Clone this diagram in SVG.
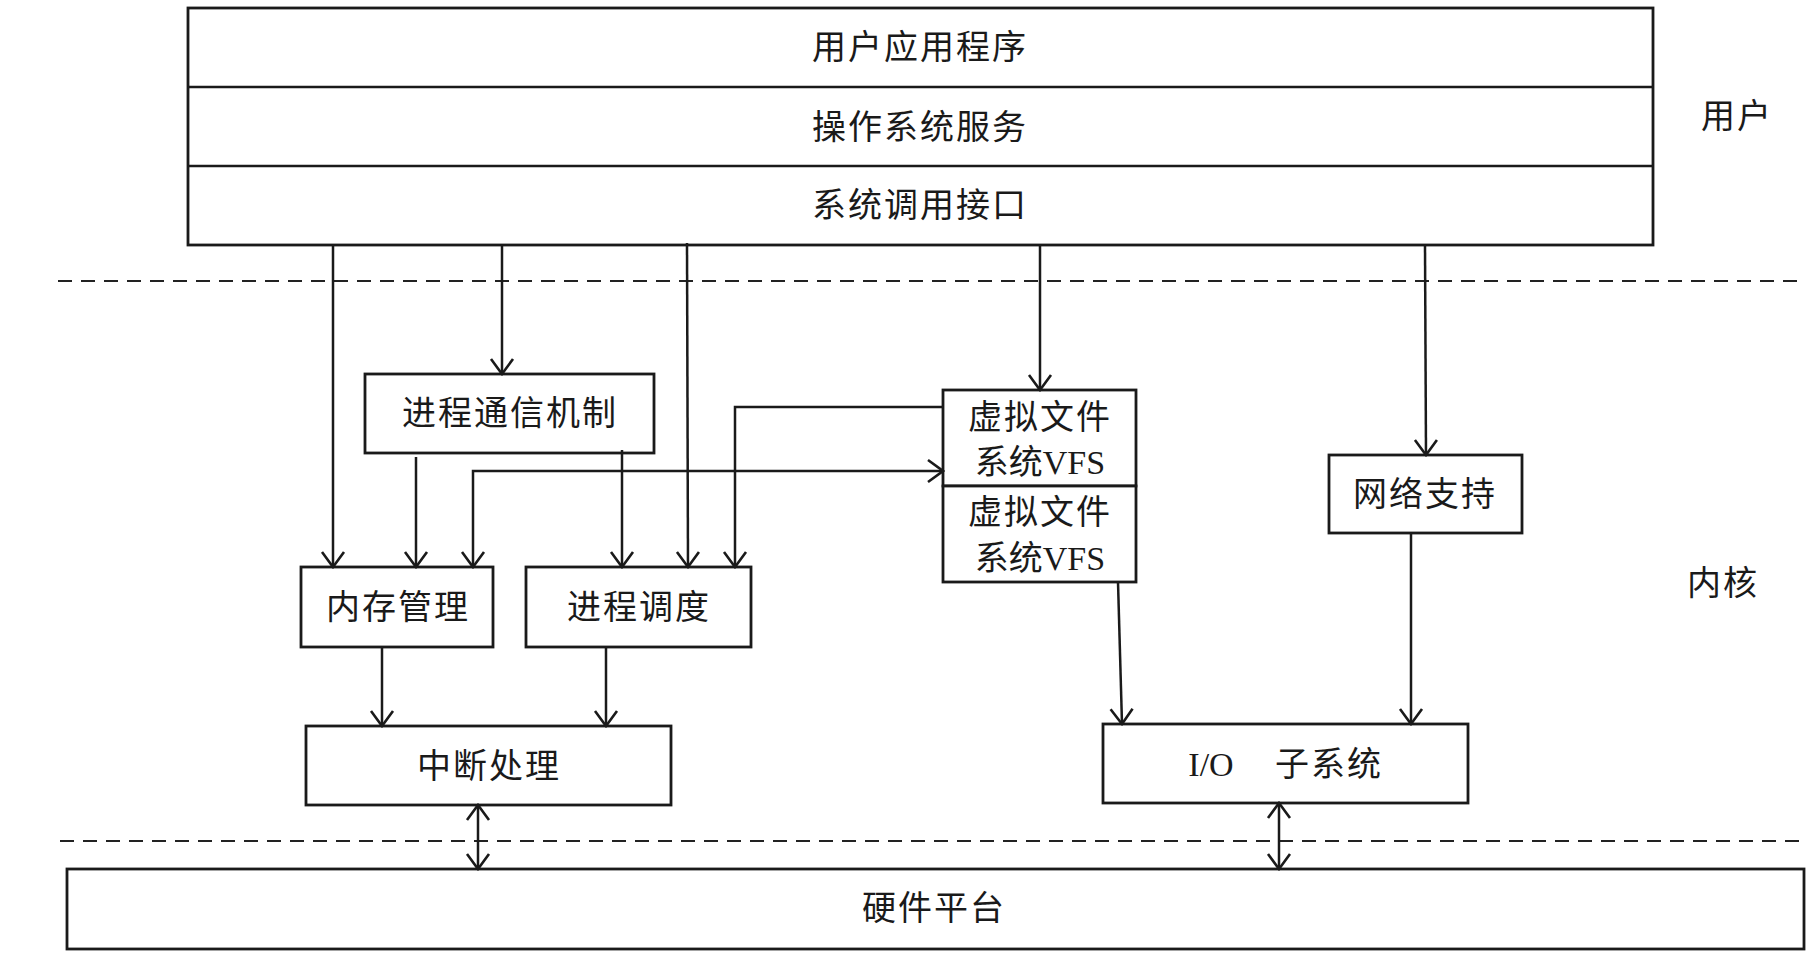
<svg xmlns="http://www.w3.org/2000/svg" width="1810" height="972" viewBox="0 0 1810 972">
<style>
.box{fill:#fff;stroke:#1a1a1a;stroke-width:2.8}
.t{font-family:"Liberation Serif","Noto Sans CJK SC",serif;font-size:34px;fill:#1a1a1a;text-anchor:middle;dominant-baseline:central;letter-spacing:2px}
.v{letter-spacing:0}
.ln{fill:none;stroke:#1a1a1a;stroke-width:2.5}
.dash{fill:none;stroke:#222;stroke-width:2.2;stroke-dasharray:14 9}
</style>
<defs>
<marker id="ah" viewBox="-18 -13 20 26" refX="0" refY="0" markerWidth="20" markerHeight="26" markerUnits="userSpaceOnUse" orient="auto-start-reverse">
<path d="M-15,-11 L0,0 L-15,11" fill="none" stroke="#1a1a1a" stroke-width="2.6"/>
</marker>
</defs>
<rect width="1810" height="972" fill="#fff"/>

<g id="dashes">
<line class="dash" x1="58" y1="281" x2="1803" y2="281"/>
<line class="dash" x1="60" y1="841" x2="1806" y2="841"/>
</g>

<g id="user-top">
<rect class="box" x="188" y="8" width="1465" height="237"/>
<line class="ln" x1="188" y1="87" x2="1653" y2="87" stroke-width="2.8"/>
<line class="ln" x1="188" y1="166" x2="1653" y2="166" stroke-width="2.8"/>
<text class="t" x="920" y="47">用户应用程序</text>
<text class="t" x="920" y="127">操作系统服务</text>
<text class="t" x="920" y="205">系统调用接口</text>
</g>

<g id="label-user"><text class="t" x="1737" y="116">用户</text></g>
<g id="label-kernel"><text class="t" x="1723" y="583">内核</text></g>

<g id="ipc">
<rect class="box" x="365" y="374" width="289" height="79"/>
<text class="t" x="510" y="413">进程通信机制</text>
</g>
<g id="mem">
<rect class="box" x="301" y="567" width="192" height="80"/>
<text class="t" x="398" y="607">内存管理</text>
</g>
<g id="sched">
<rect class="box" x="526" y="567" width="225" height="80"/>
<text class="t" x="639" y="607">进程调度</text>
</g>
<g id="irq">
<rect class="box" x="306" y="726" width="365" height="79"/>
<text class="t" x="489" y="766">中断处理</text>
</g>
<g id="vfs">
<rect class="box" x="943" y="390" width="193" height="96"/>
<rect class="box" x="943" y="486" width="193" height="96"/>
<text class="t" x="1040" y="417">虚拟文件</text>
<text class="t v" x="1040" y="462">系统VFS</text>
<text class="t" x="1040" y="512">虚拟文件</text>
<text class="t v" x="1040" y="558">系统VFS</text>
</g>
<g id="net">
<rect class="box" x="1329" y="455" width="193" height="78"/>
<text class="t" x="1425" y="494">网络支持</text>
</g>
<g id="io">
<rect class="box" x="1103" y="724" width="365" height="79"/>
<text class="t v" x="1211" y="764">I/O</text>
<text class="t" x="1329" y="764">子系统</text>
</g>
<g id="hw">
<rect class="box" x="67" y="869" width="1737" height="80"/>
<text class="t" x="934" y="908">硬件平台</text>
</g>

<g id="connectors">
<line class="ln" x1="333" y1="245" x2="333" y2="567" marker-end="url(#ah)"/>
<line class="ln" x1="502" y1="245" x2="502" y2="374" marker-end="url(#ah)"/>
<line class="ln" x1="687" y1="243" x2="688" y2="567" marker-end="url(#ah)"/>
<line class="ln" x1="1040" y1="245" x2="1040" y2="390" marker-end="url(#ah)"/>
<line class="ln" x1="1425" y1="245" x2="1426" y2="455" marker-end="url(#ah)"/>
<line class="ln" x1="416" y1="457" x2="416" y2="567" marker-end="url(#ah)"/>
<line class="ln" x1="622" y1="450" x2="622" y2="567" marker-end="url(#ah)"/>
<polyline class="ln" points="943,407 735,407 735,567" marker-end="url(#ah)"/>
<polyline class="ln" points="473,567 473,471 943,471" marker-start="url(#ah)" marker-end="url(#ah)"/>
<line class="ln" x1="382" y1="647" x2="382" y2="726" marker-end="url(#ah)"/>
<line class="ln" x1="606" y1="647" x2="606" y2="726" marker-end="url(#ah)"/>
<line class="ln" x1="1118" y1="582" x2="1122" y2="724" marker-end="url(#ah)"/>
<line class="ln" x1="1411" y1="533" x2="1411" y2="724" marker-end="url(#ah)"/>
<line class="ln" x1="478" y1="805" x2="478" y2="869" marker-start="url(#ah)" marker-end="url(#ah)"/>
<line class="ln" x1="1279" y1="803" x2="1279" y2="869" marker-start="url(#ah)" marker-end="url(#ah)"/>
</g>
</svg>
